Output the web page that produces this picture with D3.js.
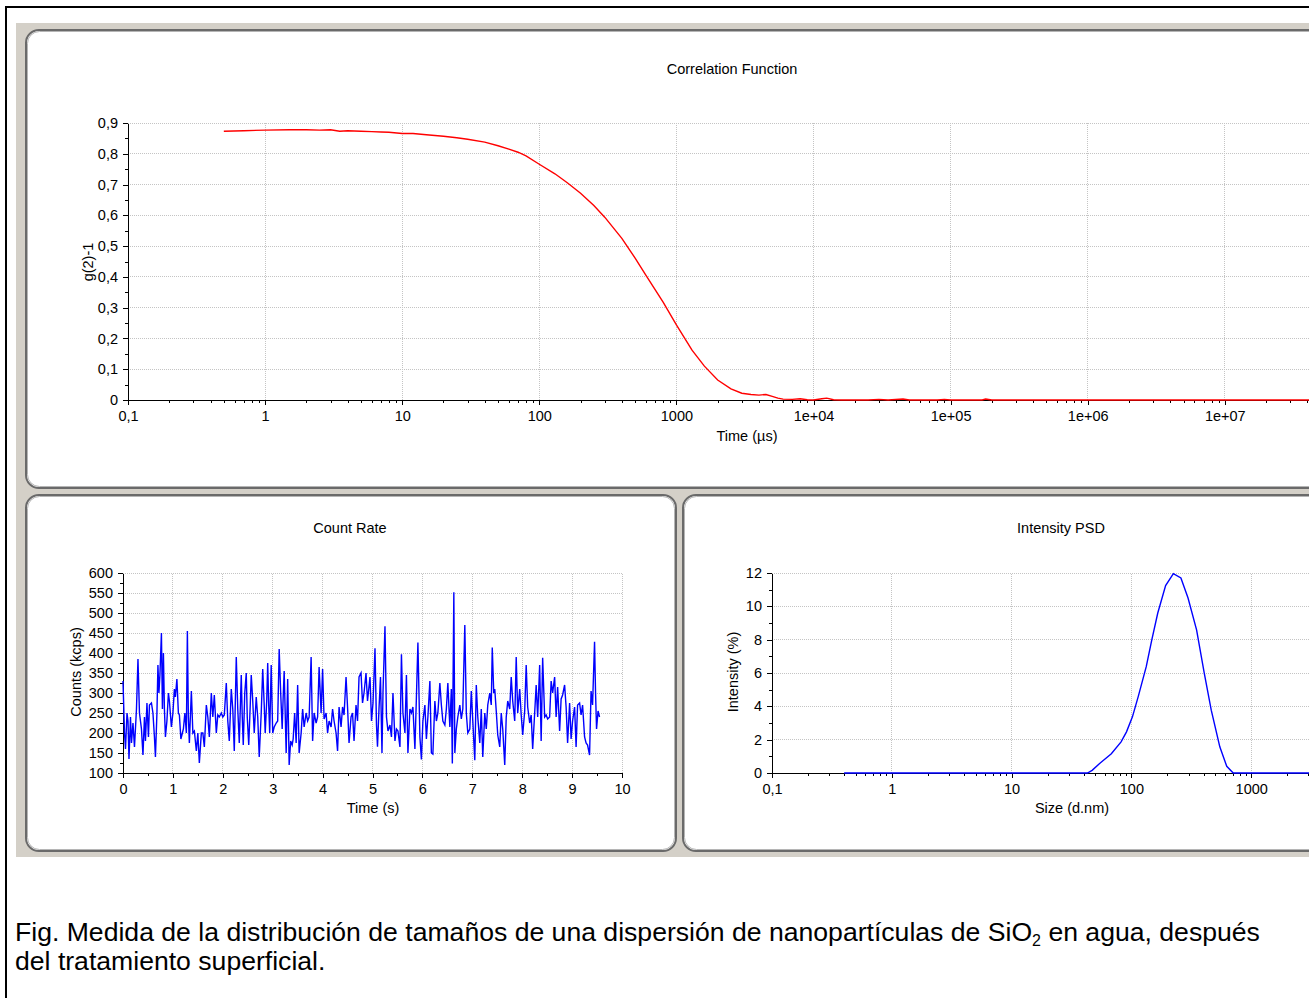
<!DOCTYPE html>
<html>
<head>
<meta charset="utf-8">
<script src="https://cdnjs.cloudflare.com/ajax/libs/d3/7.8.5/d3.min.js"></script>
<style>
  body { margin: 0; background: #fff; }
  svg text { font-family: "Liberation Sans", Arial, sans-serif; fill: #000; }
  .axis text { font-size: 14.5px; }
  .axis path, .axis line { stroke: #000; shape-rendering: crispEdges; }
  .grid { stroke: #c4c4c4; stroke-dasharray: 1,1; shape-rendering: crispEdges; }
  .title { font-size: 14.5px; }
  .caption { font-size: 26.6px; }
</style>
</head>
<body>
<div id="chart"></div>
<script>
// Values (Zetasizer style report)

// Correlation function: delay time (us) and g(2)-1
const corrTime = [0.5, 0.7, 1, 1.5, 2, 2.5, 3, 3.5, 4, 5, 6, 7, 8, 10, 12, 15, 20, 25, 30, 40, 50, 60, 70, 80,
  100, 130, 160, 200, 250, 300, 400, 500, 600, 800, 1000, 1300, 1600, 2000, 2500, 3000, 3500, 4000, 4500,
  5000, 5500, 6000, 7000, 8000, 9000, 10000, 11500, 12500, 14000, 16000, 25000, 30000, 35000, 45000, 50000,
  80000, 90000, 100000, 170000, 180000, 200000, 1e6, 1e7, 1e8];
const corrValue = [0.873, 0.875, 0.877, 0.878, 0.878, 0.877, 0.878, 0.873, 0.875, 0.873, 0.872, 0.871, 0.870,
  0.866, 0.866, 0.862, 0.857, 0.852, 0.847, 0.838, 0.826, 0.815, 0.805, 0.793,
  0.766, 0.735, 0.706, 0.672, 0.632, 0.594, 0.525, 0.461, 0.405, 0.318, 0.244, 0.162, 0.110, 0.065, 0.036,
  0.022, 0.018, 0.016, 0.018, 0.012, 0.006, 0.003, 0.002, 0.004, 0.001, 0.000, 0.004, 0.006, 0.001, 0.000,
  0.000, 0.002, 0.000, 0.003, 0.000, 0.000, 0.002, 0.000, 0.000, 0.003, 0.000, 0.000, 0.000, 0.000];

// Count rate: time (s) and counts (kcps)
const countTime = [0.00, 0.03, 0.05, 0.08, 0.10, 0.12, 0.15, 0.17, 0.20, 0.23, 0.27, 0.30, 0.33, 0.37, 0.40,
  0.43, 0.45, 0.48, 0.51, 0.53, 0.57, 0.60, 0.63, 0.65, 0.68, 0.70, 0.72, 0.74, 0.77, 0.79, 0.81, 0.83, 0.85,
  0.88, 0.91, 0.93, 0.97, 1.00, 1.03, 1.05, 1.08, 1.11, 1.13, 1.16, 1.19, 1.21, 1.24, 1.27, 1.29, 1.31, 1.33,
  1.37, 1.40, 1.43, 1.47, 1.50, 1.53, 1.57, 1.60, 1.63, 1.67, 1.70, 1.73, 1.77, 1.80, 1.83, 1.87, 1.90, 1.93,
  1.97, 2.00, 2.03, 2.07, 2.10, 2.13, 2.17, 2.20, 2.23, 2.27, 2.30, 2.33, 2.37, 2.39, 2.41, 2.44, 2.47, 2.49,
  2.52, 2.55, 2.57, 2.60, 2.63, 2.67, 2.70, 2.73, 2.77, 2.80, 2.83, 2.85, 2.88, 2.90, 2.92, 2.94, 2.97, 3.00,
  3.03, 3.07, 3.10, 3.13, 3.16, 3.19, 3.21, 3.23, 3.27, 3.30, 3.33, 3.36, 3.39, 3.41, 3.44, 3.47, 3.50, 3.53,
  3.57, 3.60, 3.63, 3.67, 3.70, 3.73, 3.77, 3.80, 3.83, 3.87, 3.90, 3.93, 3.97, 4.00, 4.03, 4.07, 4.10, 4.13,
  4.17, 4.20, 4.23, 4.27, 4.30, 4.33, 4.37, 4.40, 4.43, 4.47, 4.50, 4.53, 4.57, 4.60, 4.63, 4.67, 4.70, 4.73,
  4.77, 4.80, 4.83, 4.87, 4.90, 4.95, 4.98, 5.01, 5.05, 5.08, 5.10, 5.13, 5.16, 5.19, 5.21, 5.25, 5.28, 5.31,
  5.35, 5.38, 5.41, 5.45, 5.48, 5.51, 5.55, 5.58, 5.61, 5.65, 5.68, 5.71, 5.75, 5.78, 5.81, 5.85, 5.88, 5.91,
  5.95, 5.98, 6.01, 6.05, 6.08, 6.11, 6.15, 6.18, 6.21, 6.25, 6.28, 6.31, 6.35, 6.38, 6.41, 6.45, 6.48, 6.51,
  6.55, 6.58, 6.60, 6.63, 6.65, 6.68, 6.71, 6.75, 6.78, 6.81, 6.85, 6.88, 6.91, 6.95, 6.98, 7.01, 7.05, 7.08,
  7.11, 7.15, 7.18, 7.21, 7.25, 7.28, 7.31, 7.35, 7.38, 7.40, 7.43, 7.45, 7.48, 7.51, 7.55, 7.58, 7.61, 7.65,
  7.68, 7.71, 7.75, 7.78, 7.81, 7.85, 7.88, 7.91, 7.95, 7.98, 8.01, 8.05, 8.08, 8.11, 8.15, 8.18, 8.21, 8.25,
  8.28, 8.31, 8.35, 8.38, 8.41, 8.45, 8.48, 8.51, 8.55, 8.58, 8.61, 8.65, 8.68, 8.71, 8.75, 8.78, 8.81, 8.85,
  8.88, 8.91, 8.95, 8.98, 9.01, 9.05, 9.08, 9.11, 9.15, 9.18, 9.21, 9.25, 9.28, 9.31, 9.35, 9.38, 9.41, 9.45,
  9.47, 9.49, 9.52, 9.55];
const countValue = [330, 200, 160, 250, 230, 135, 240, 175, 225, 165, 260, 385, 250, 210, 145,
  240, 180, 275, 190, 270, 275, 250, 190, 140, 250, 370, 300, 345, 450, 260, 400, 260, 190,
  230, 300, 280, 215, 250, 310, 290, 335, 250, 245, 185, 200, 210, 250, 200, 455, 240, 175,
  305, 200, 205, 155, 200, 125, 200, 200, 165, 270, 240, 190, 300, 240, 295, 200, 245, 240,
  250, 240, 245, 325, 230, 180, 310, 260, 155, 390, 260, 175, 345, 240, 170, 300, 350, 240,
  170, 270, 345, 280, 200, 290, 240, 140, 250, 360, 270, 200, 280, 375, 270, 200, 370, 200,
  215, 225, 230, 410, 300, 210, 290, 355, 150, 335, 120, 180, 170, 185, 250, 175, 320, 150,
  200, 260, 215, 250, 230, 240, 390, 180, 250, 225, 240, 365, 250, 360, 235, 250, 200, 230,
  215, 260, 230, 200, 155, 265, 215, 265, 245, 340, 265, 175, 240, 250, 180, 270, 230, 340,
  350, 275, 300, 350, 280, 340, 230, 275, 412, 220, 166, 260, 340, 150, 300, 467, 240, 205,
  220, 190, 300, 180, 210, 205, 165, 397, 250, 200, 345, 150, 260, 250, 265, 160, 290, 426,
  190, 134, 230, 270, 185, 240, 330, 150, 147, 280, 230, 250, 325, 270, 230, 220, 260, 325,
  215, 310, 124, 552, 150, 210, 240, 270, 235, 260, 470, 250, 200, 210, 305, 230, 132, 320,
  240, 175, 260, 140, 250, 210, 270, 300, 270, 414, 300, 310, 255, 195, 165, 250, 210, 120,
  240, 280, 260, 340, 280, 230, 390, 250, 310, 245, 195, 255, 370, 265, 225, 245, 160, 250,
  320, 240, 370, 180, 388, 240, 245, 235, 240, 330, 300, 340, 240, 315, 205, 285, 295, 320,
  265, 175, 275, 185, 230, 265, 165, 270, 275, 245, 270, 190, 175, 170, 145, 305, 270, 428,
  300, 210, 255, 240];

// Intensity size distribution: size (d.nm) and intensity (%)
const sizeNm = [0.4, 1, 10, 40, 43, 47, 54, 68, 82, 91, 102, 114, 133, 148, 166, 193, 224, 259, 297,
  350, 406, 464, 547, 625, 708, 1000, 5000, 10000];
const intensityPct = [0, 0, 0, 0, 0, 0.16, 0.56, 1.16, 1.87, 2.47, 3.37, 4.58, 6.38, 7.99, 9.6, 11.24,
  11.96, 11.7, 10.5, 8.59, 5.98, 3.77, 1.57, 0.4, 0, 0, 0, 0];

// Tick values
const decadeTicks = [0.1, 1, 10, 100, 1000, 1e4, 1e5, 1e6, 1e7, 1e8];
const corrYTicks = [0, 0.1, 0.2, 0.3, 0.4, 0.5, 0.6, 0.7, 0.8, 0.9];
const countXTicks = [0, 1, 2, 3, 4, 5, 6, 7, 8, 9, 10];
const countYTicks = [100, 150, 200, 250, 300, 350, 400, 450, 500, 550, 600];
const psdXTicks = [0.1, 1, 10, 100, 1000, 10000];
const psdYTicks = [0, 2, 4, 6, 8, 10, 12];

const width = 1309, height = 998;
const svg = d3.select("#chart").append("svg")
    .attr("width", width)
    .attr("height", height);

// frame of the figure + grey window background
svg.append("rect").attr("x", 6).attr("y", 7).attr("width", 1400).attr("height", 1100)
    .attr("fill", "#fff").attr("stroke", "#000").attr("stroke-width", 2);
svg.append("rect").attr("x", 16).attr("y", 23).attr("width", 1400).attr("height", 834)
    .attr("fill", "#d4d0c8");

function drawPanel(x, y, w, h) {
    svg.append("rect").attr("x", x).attr("y", y).attr("width", w).attr("height", h)
        .attr("rx", 13).attr("ry", 13)
        .attr("fill", "#fff").attr("stroke", "#6a6a6a").attr("stroke-width", 2);
    svg.append("rect").attr("x", x + 1.5).attr("y", y + 1.5).attr("width", w - 3).attr("height", h - 3)
        .attr("rx", 12).attr("ry", 12)
        .attr("fill", "none").attr("stroke", "#b5b5b5").attr("stroke-width", 1);
}
drawPanel(26, 30, 1400, 458);
drawPanel(26, 495, 650, 356);
drawPanel(683, 495, 700, 356);

// log ticks 2..9 inside every decade
function minorLog(lo, hi) {
    const out = [];
    for (let p = lo; p < hi; p++) {
        for (let k = 2; k <= 9; k++) out.push(k * Math.pow(10, p));
    }
    return out;
}
const fmtComma = d => d === 0 ? "0" : String(d).replace(".", ",");
const fmtTime = d => d >= 1e4 ? "1e+" + String(Math.round(Math.log10(d))).padStart(2, "0") : fmtComma(d);

function drawChart(o) {
    const g = svg.append("g");
    const [x0, x1] = o.x.range();
    const [y0, y1] = o.y.range();
    // labels only for ticks that land inside the window (the panel runs off the right edge)
    const xLabelled = o.xMajor.filter(v => o.x(v) < width - 20);

    // dotted grid at the major ticks
    g.append("g").selectAll("line")
        .data(o.yMajor.filter(v => v !== o.y.domain()[0]))
        .join("line").attr("class", "grid")
        .attr("x1", x0).attr("x2", x1)
        .attr("y1", d => o.y(d)).attr("y2", d => o.y(d));
    g.append("g").selectAll("line")
        .data(o.xMajor.filter(v => v !== o.x.domain()[0]))
        .join("line").attr("class", "grid")
        .attr("x1", d => o.x(d)).attr("x2", d => o.x(d))
        .attr("y1", y0).attr("y2", y1);

    // axes: minor ticks first, then the labelled ones
    g.append("g").attr("class", "axis").attr("transform", `translate(0,${y0})`)
        .call(d3.axisBottom(o.x).tickValues(o.xMinor).tickSize(3).tickSizeOuter(0).tickFormat(""));
    g.append("g").attr("class", "axis").attr("transform", `translate(0,${y0})`)
        .call(d3.axisBottom(o.x).tickValues(xLabelled).tickSize(5).tickSizeOuter(0)
            .tickPadding(6).tickFormat(o.fmtX));
    g.append("g").attr("class", "axis").attr("transform", `translate(${x0},0)`)
        .call(d3.axisLeft(o.y).tickValues(o.yMinor).tickSize(3).tickSizeOuter(0).tickFormat(""));
    g.append("g").attr("class", "axis").attr("transform", `translate(${x0},0)`)
        .call(d3.axisLeft(o.y).tickValues(o.yMajor).tickSize(5).tickSizeOuter(0)
            .tickPadding(5).tickFormat(o.fmtY));

    // data line
    const line = d3.line()
        .x((d, i) => o.x(o.xs[i]))
        .y(d => o.y(d));
    g.append("path")
        .datum(o.ys)
        .attr("fill", "none")
        .attr("stroke", o.color)
        .attr("stroke-width", 1.4)
        .attr("d", line);

    // titles
    g.append("text").attr("class", "title")
        .attr("x", o.titlePos[0]).attr("y", o.titlePos[1])
        .attr("text-anchor", "middle").text(o.title);
    g.append("text").attr("class", "title")
        .attr("x", o.xLabelPos[0]).attr("y", o.xLabelPos[1])
        .attr("text-anchor", "middle").text(o.xLabel);
    g.append("text").attr("class", "title")
        .attr("transform", `translate(${o.yLabelPos[0]},${o.yLabelPos[1]}) rotate(-90)`)
        .attr("text-anchor", "middle").text(o.yLabel);
}

// Correlation Function
drawChart({
    x: d3.scaleLog().domain([0.1, 1e8]).range([128, 128 + 137.1 * 9]),
    y: d3.scaleLinear().domain([0, 0.9]).range([400, 123]),
    xMajor: decadeTicks, xMinor: minorLog(-1, 8),
    yMajor: corrYTicks, yMinor: d3.range(0.05, 0.9, 0.1),
    fmtX: fmtTime, fmtY: fmtComma,
    xs: corrTime, ys: corrValue, color: "#ff0000",
    title: "Correlation Function", titlePos: [732, 74],
    xLabel: "Time (µs)", xLabelPos: [747, 441],
    yLabel: "g(2)-1", yLabelPos: [93, 262]
});

// Count Rate
drawChart({
    x: d3.scaleLinear().domain([0, 10]).range([123, 622]),
    y: d3.scaleLinear().domain([100, 600]).range([773, 573]),
    xMajor: countXTicks, xMinor: d3.range(0.5, 10, 1),
    yMajor: countYTicks, yMinor: d3.range(125, 600, 50),
    fmtX: d => String(d), fmtY: d => String(d),
    xs: countTime, ys: countValue, color: "#0000ff",
    title: "Count Rate", titlePos: [350, 533],
    xLabel: "Time (s)", xLabelPos: [373, 813],
    yLabel: "Counts (kcps)", yLabelPos: [81, 672]
});

// Intensity PSD
drawChart({
    x: d3.scaleLog().domain([0.1, 10000]).range([772, 772 + 119.8 * 5]),
    y: d3.scaleLinear().domain([0, 12]).range([773, 573]),
    xMajor: psdXTicks, xMinor: minorLog(-1, 4),
    yMajor: psdYTicks, yMinor: d3.range(1, 12, 2),
    fmtX: fmtComma, fmtY: d => String(d),
    xs: sizeNm, ys: intensityPct, color: "#0000ff",
    title: "Intensity PSD", titlePos: [1061, 533],
    xLabel: "Size (d.nm)", xLabelPos: [1072, 813],
    yLabel: "Intensity (%)", yLabelPos: [738, 672]
});

// caption under the screenshot
const cap = svg.append("text").attr("class", "caption").attr("x", 15).attr("y", 941);
cap.append("tspan").text("Fig. Medida de la distribución de tamaños de una dispersión de nanopartículas de SiO");
cap.append("tspan").attr("dy", 5).style("font-size", "16px").text("2");
cap.append("tspan").attr("dy", -5).text(" en agua, después");
svg.append("text").attr("class", "caption").attr("x", 15).attr("y", 970)
    .text("del tratamiento superficial.");
</script>
</body>
</html>
